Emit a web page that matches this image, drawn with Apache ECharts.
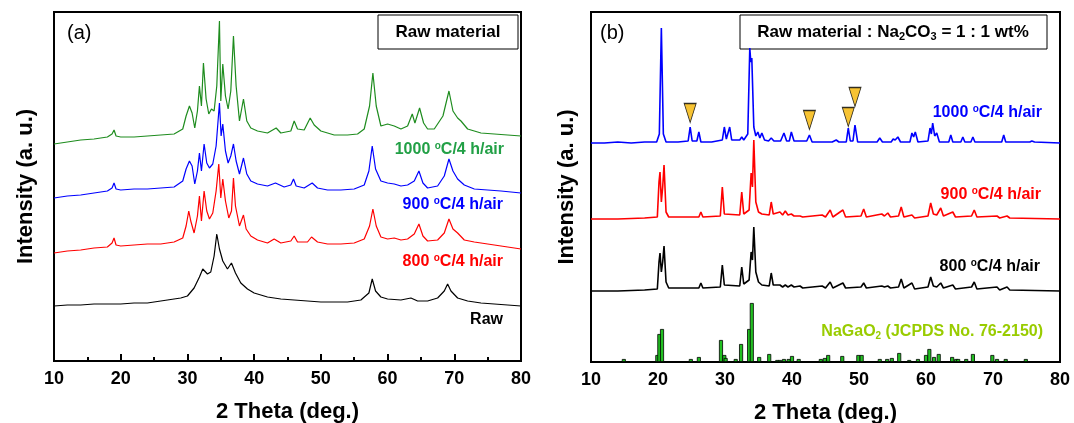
<!DOCTYPE html>
<html>
<head>
<meta charset="utf-8">
<script src="https://cdn.jsdelivr.net/npm/echarts@6/dist/echarts.min.js"></script>
<style>
  html, body { margin: 0; padding: 0; background: #fff; }
  #chartmain { width: 1074px; height: 423px; }
</style>
</head>
<body>
<div id="chartmain"></div>
<script>
// 2 theta ticks
var thetaTicks = [10, 20, 30, 40, 50, 60, 70, 80];

// (a) raw material, [2theta, intensity a.u.]
var rawA = [[10,55],[12,56],[14,56],[16,57],[18,57],[20,57],[22,58],[24,58],[26,60],[28,62],[29,63],[30,65],[31,73],[31.8,84],[32.3,92],[33,87],[33.5,89],[34,105],[34.4,127],[34.8,112],[35.3,100],[36,92],[36.6,98],[37.2,88],[38,78],[39,72],[40,68],[42,64],[44,62],[46,61],[48,60],[50,59],[52,59],[54,59],[56,61],[57.2,68],[57.7,82],[58.2,70],[59,64],[60,62],[62,61],[63.5,63],[64.5,60],[66,60],[67.5,63],[68.5,70],[69,77],[69.5,70],[70.5,63],[72,60],[74,58],[76,57],[78,56],[80,55]];
var a800 = [[10,108],[12,110],[14,111],[16,113],[18,114],[18.7,118],[19,123],[19.3,116],[20,115],[22,116],[24,117],[26,117],[28,119],[29.3,123],[29.8,135],[30.2,150],[30.5,140],[31,128],[31.5,145],[31.8,165],[32.1,140],[32.5,170],[32.9,150],[33.3,142],[33.8,148],[34.3,170],[34.7,197],[35.0,163],[35.3,182],[35.7,160],[36.2,143],[36.6,150],[36.9,183],[37.2,155],[37.8,135],[38.4,146],[38.8,132],[39.5,125],[40.5,121],[42,118],[43,122],[44,118],[45.5,120],[46,125],[46.5,119],[48,119],[48.6,124],[49.5,119],[51,117],[53,117],[55,118],[56.5,122],[57.3,135],[57.8,152],[58.3,135],[59,124],[60,122],[61,123],[62,121],[63,122],[64,127],[64.7,137],[65.3,125],[66,120],[67.5,121],[68.5,128],[69.2,142],[69.8,132],[70.5,128],[71.5,121],[73,119],[75,117],[77,115],[80,112]];
var a900 = [[10,163],[12,165],[14,166],[16,168],[18,170],[18.7,173],[19,178],[19.3,172],[20,171],[22,172],[24,172],[26,173],[28,174],[29.3,180],[29.8,192],[30.3,200],[30.7,195],[31.1,177],[31.5,190],[31.8,208],[32.1,190],[32.5,217],[32.9,198],[33.3,193],[33.8,197],[34.3,215],[34.8,258],[35.05,225],[35.3,237],[35.7,210],[36.1,198],[36.5,205],[36.9,217],[37.3,200],[37.8,187],[38.4,203],[38.9,187],[39.5,180],[40.5,177],[42,175],[43.2,178],[44.5,174],[45.5,176],[45.9,182],[46.3,175],[47.5,173],[48.7,178],[49.5,173],[51,171],[53,171],[55,172],[56.5,176],[57.2,190],[57.7,215],[58.2,192],[59,180],[60,178],[61,177],[62,175],[63,176],[64,180],[64.7,190],[65.3,178],[66,173],[67.5,175],[68.5,185],[69.2,202],[69.8,190],[70.5,182],[71.5,176],[73,172],[75,171],[77,170],[80,168]];
var a1000 = [[10,217],[12,219],[14,221],[16,222],[18,224],[18.7,227],[19,231],[19.3,225],[20,224],[22,224],[24,225],[26,226],[28,227],[29.3,232],[29.8,245],[30.3,255],[30.7,248],[31.1,233],[31.5,250],[31.8,275],[32.1,255],[32.4,298],[32.8,262],[33.2,247],[33.6,252],[34.0,250],[34.4,275],[34.8,340],[35.0,260],[35.3,297],[35.7,265],[36.1,252],[36.5,270],[36.9,325],[37.3,275],[37.8,240],[38.4,262],[38.9,240],[39.5,233],[40.5,230],[42,228],[43.3,233],[44,228],[45.5,230],[46,240],[46.5,232],[47.5,231],[48.4,243],[49,236],[50,230],[52,226],[54,226],[55.5,227],[56.5,232],[57.3,255],[57.8,288],[58.3,255],[59,235],[60,237],[61,235],[62,232],[63,235],[63.7,247],[64.1,238],[64.8,253],[65.4,238],[66,232],[67,232],[68.3,245],[69.2,270],[69.8,250],[70.5,243],[71,240],[72,232],[74,228],[76,227],[78,226],[80,225]];

// (b) raw material : Na2CO3 = 1 : 1
var b1000 = [[10,219],[12,219],[14,220],[16,219],[18,220],[19.8,220],[20.2,228],[20.5,334],[20.8,228],[21.2,220],[23,220],[24.5,221],[24.8,235],[25.1,221],[25.8,221],[26.1,230],[26.4,220],[28,220],[29.6,222],[29.9,235],[30.2,223],[30.4,223],[30.7,235],[31,222],[32.2,222],[32.5,225],[32.8,222],[33.4,228],[33.7,314],[33.85,300],[34.0,304],[34.3,235],[34.6,226],[34.9,230],[35.2,224],[35.5,229],[35.9,222],[36.5,221],[36.9,224],[37.3,221],[38.3,221],[38.8,229],[39.2,221],[39.6,221],[39.9,230],[40.3,221],[42.2,221],[42.6,227],[43,220],[46,220],[46.6,222],[47,220],[48.1,220],[48.4,234],[48.7,221],[49.1,221],[49.4,237],[49.8,220],[52.7,220],[53.1,224],[53.5,220],[54.8,220],[55.1,223],[55.4,222],[55.8,225],[56.2,220],[57.6,220],[57.9,229],[58.15,225],[58.4,230],[58.8,220],[60.3,221],[60.6,234],[60.8,228],[61.0,239],[61.3,226],[61.6,229],[62,220],[63.4,220],[63.7,227],[64,220],[65.2,220],[65.5,225],[65.8,220],[66.7,220],[67,225],[67.3,220],[71.3,220],[71.6,227],[71.9,220],[75.5,220],[75.8,221],[76.2,220],[80,219]];
var b900 = [[10,143],[14,143],[18,144],[19.9,145],[20.15,180],[20.3,190],[20.5,160],[20.7,175],[20.9,197],[21.2,150],[21.6,145],[26.1,145],[26.4,150],[26.7,145],[29.3,146],[29.6,175],[29.9,148],[32.2,147],[32.5,170],[32.8,148],[33.6,152],[33.9,189],[34.1,175],[34.3,222],[34.6,160],[35,150],[35.5,148],[36.6,147],[36.9,160],[37.2,148],[38.2,150],[38.6,147],[39.0,151],[39.4,147],[39.9,148],[40.3,146],[41.2,146],[41.6,145],[44.5,147],[45.0,145],[45.7,152],[46.1,145],[47.6,152],[48,145],[50.3,146],[50.7,153],[51.1,145],[53.4,148],[53.8,146],[54.3,149],[54.7,145],[55.9,146],[56.3,155],[56.7,145],[57.9,147],[58.3,144],[60.3,146],[60.7,159],[61.1,148],[61.6,147],[62.2,154],[62.6,146],[64,150],[64.4,145],[66.8,146],[67.2,152],[67.6,145],[70.6,146],[71,144],[72.1,146],[72.5,144],[80,143]];
var b800 = [[10,71],[14,71],[18,72],[19.9,73],[20.15,100],[20.3,109],[20.5,90],[20.7,100],[20.9,116],[21.2,80],[21.6,74],[26.1,74],[26.4,79],[26.7,74],[29.3,75],[29.6,97],[29.9,77],[32.2,76],[32.5,95],[32.8,78],[33.6,82],[33.9,110],[34.1,102],[34.3,135],[34.6,90],[35,80],[35.5,77],[36.6,76],[36.9,89],[37.2,77],[38.2,77],[38.6,75],[39.0,77],[39.4,75],[39.9,77],[40.3,75],[41.2,76],[41.6,74],[44.5,76],[45,74],[45.7,80],[46.1,74],[47.6,79],[48,74],[50.3,75],[50.7,79],[51.1,74],[53.4,76],[53.8,75],[54.3,76],[54.7,74],[55.9,75],[56.3,83],[56.7,74],[57.9,79],[58.3,73],[60.3,75],[60.7,85],[61.1,76],[61.6,75],[62.2,79],[62.6,74],[64,77],[64.4,73],[66.8,75],[67.2,80],[67.6,73],[70.6,75],[71,72],[72.1,75],[72.5,72],[80,71]];
// NaGaO2 JCPDS 76-2150 reference lines
var jcpds = [[14.9,3],[19.9,7],[20.2,28],[20.6,33],[24.9,3],[26.1,5],[29.4,22],[29.9,7],[30.1,4],[31.6,3],[32.4,18],[33.6,33],[34.0,59],[35.1,5],[36.6,8],[37.8,2],[38.2,2],[38.8,3],[39.5,3],[40.0,6],[41.0,3],[44.3,3],[44.9,4],[45.4,7],[47.5,6],[49.9,7],[50.4,7],[53.1,3],[54.2,3],[54.9,4],[56.0,9],[57.5,2],[58.8,3],[60.0,7],[60.5,13],[61.2,5],[61.9,8],[63.9,5],[64.5,3],[64.8,3],[66.0,3],[67.0,8],[69.9,7],[70.6,3],[71.9,3],[74.9,3]];
// impurity markers above the 1000 C pattern
var markers = [[24.8,249],[42.6,242],[48.4,245],[49.4,265]];

var FONT = 'Liberation Sans, Arial, sans-serif';

function xAx(gi, ticks) {
    return {
        type: 'value', gridIndex: gi, min: 10, max: 80, interval: 10,
        name: '2 Theta (deg.)', nameLocation: 'middle', nameGap: 40,
        nameTextStyle: { fontFamily: FONT, fontSize: 22, fontWeight: 'bold', color: '#000' },
        axisLine: { lineStyle: { color: '#000', width: 2 } },
        axisTick: { show: ticks, inside: true, length: 7, lineStyle: { color: '#000', width: 2 } },
        minorTick: { show: ticks, splitNumber: 2, length: 4, lineStyle: { color: '#000', width: 2 } },
        axisLabel: { fontFamily: FONT, fontSize: 18, fontWeight: 'bold', color: '#000', margin: 9,
            formatter: function (v) { return thetaTicks.indexOf(v) >= 0 ? v : ''; } },
        splitLine: { show: false }
    };
}
function yAx(gi, max, gap) {
    return {
        type: 'value', gridIndex: gi, min: 0, max: max,
        name: 'Intensity (a. u.)', nameLocation: 'middle', nameGap: gap,
        nameTextStyle: { fontFamily: FONT, fontSize: 22, fontWeight: 'bold', color: '#000' },
        axisLine: { show: false }, axisTick: { show: false },
        axisLabel: { show: false }, splitLine: { show: false }
    };
}
function line(gi, data, color, w) {
    return { type: 'line', xAxisIndex: gi, yAxisIndex: gi, data: data, showSymbol: false,
        lineStyle: { color: color, width: w }, silent: true };
}
function label(x, y, temp, color) {
    return { type: 'text', x: x, y: y, style: {
        text: '{n|' + temp + ' }{s|o}{n|C/4 h/air}', align: 'right', verticalAlign: 'middle',
        rich: {
            n: { fontFamily: FONT, fontSize: 16, fontWeight: 'bold', fill: color, lineHeight: 18 },
            s: { fontFamily: FONT, fontSize: 10, fontWeight: 'bold', fill: color, verticalAlign: 'top' }
        } } };
}
function plain(x, y, txt, color, size, weight, align) {
    return { type: 'text', x: x, y: y, style: { text: txt, fill: color, align: align || 'right',
        verticalAlign: 'middle', fontFamily: FONT, fontSize: size, fontWeight: weight || 'bold' } };
}

option = {
    animation: false,
    grid: [
        { left: 54, top: 12, width: 467, height: 349, show: true, borderColor: '#000', borderWidth: 2,
          outerBoundsMode: 'none', containLabel: false },
        { left: 591, top: 12, width: 469, height: 350, show: true, borderColor: '#000', borderWidth: 2,
          outerBoundsMode: 'none', containLabel: false }
    ],
    xAxis: [xAx(0, true), xAx(1, false)],
    yAxis: [yAx(0, 349, 17), yAx(1, 350, 13)],
    series: [
        line(0, rawA, '#000000', 1.2),
        line(0, a800, '#ff0000', 1.2),
        line(0, a900, '#0000ff', 1.2),
        line(0, a1000, '#1e8c1e', 1.2),
        line(1, b800, '#000000', 1.6),
        line(1, b900, '#ff0000', 1.6),
        line(1, b1000, '#0000ff', 1.6),
        { type: 'bar', xAxisIndex: 1, yAxisIndex: 1, data: jcpds, barWidth: 4, silent: true,
          itemStyle: { color: '#22c022', borderColor: '#000', borderWidth: 0.8 } },
        { type: 'scatter', xAxisIndex: 1, yAxisIndex: 1, data: markers, symbol: 'triangle',
          symbolRotate: 180, symbolSize: [12, 19], silent: true,
          itemStyle: { color: '#f5b400', borderColor: '#000', borderWidth: 1 } }
    ],
    graphic: [
        plain(67, 33, '(a)', '#000', 20, 'normal', 'left'),
        plain(600, 33, '(b)', '#000', 20, 'normal', 'left'),
        { type: 'rect', shape: { x: 378, y: 15, width: 140, height: 34 },
          style: { fill: '#fff', stroke: '#000', lineWidth: 1 } },
        plain(448, 32, 'Raw material', '#000', 17, 'bold', 'center'),
        { type: 'rect', shape: { x: 740, y: 15, width: 307, height: 34 },
          style: { fill: '#fff', stroke: '#000', lineWidth: 1 } },
        { type: 'text', x: 893, y: 32, style: {
            text: '{n|Raw material : Na}{b|2}{n|CO}{b|3}{n| = 1 : 1 wt%}', align: 'center', verticalAlign: 'middle',
            rich: {
                n: { fontFamily: FONT, fontSize: 17, fontWeight: 'bold', fill: '#000', lineHeight: 20 },
                b: { fontFamily: FONT, fontSize: 11, fontWeight: 'bold', fill: '#000', verticalAlign: 'bottom' }
            } } },
        label(504, 150, '1000', '#22a046'),
        label(503, 205, '900', '#0000ff'),
        label(503, 262, '800', '#ff0000'),
        plain(503, 320, 'Raw', '#000', 16),
        label(1042, 113, '1000', '#0000ff'),
        label(1041, 195, '900', '#ff0000'),
        label(1040, 267, '800', '#000000'),
        { type: 'text', x: 1043, y: 332, style: {
            text: '{n|NaGaO}{b|2}{n| (JCPDS No. 76-2150)}', align: 'right', verticalAlign: 'middle',
            rich: {
                n: { fontFamily: FONT, fontSize: 16, fontWeight: 'bold', fill: '#99cc00', lineHeight: 19 },
                b: { fontFamily: FONT, fontSize: 10, fontWeight: 'bold', fill: '#99cc00', verticalAlign: 'bottom' }
            } } }
    ]
};

var myChart = echarts.init(document.getElementById('chartmain'));
myChart.setOption(option);
</script>
</body>
</html>
